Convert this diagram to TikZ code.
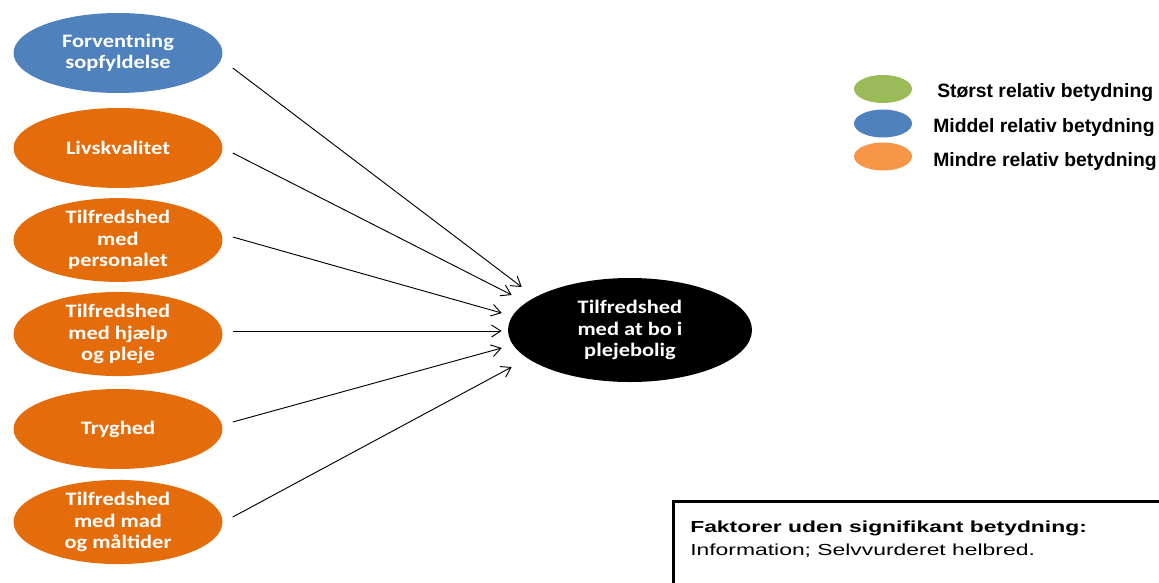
\documentclass[tikz,border=0pt]{standalone}
\usepackage{fontspec}
\setmainfont{Liberation Sans}
\newfontfamily\calfont[FakeStretch=1.18]{Carlito}
\newfontfamily\notefont[FakeStretch=1.43]{Liberation Sans}
\usepackage{xcolor}
\usepackage{tikz}
\usetikzlibrary{arrows.meta,shapes.geometric}
\definecolor{midblue}{HTML}{4F81BD}
\definecolor{darkorange}{HTML}{E46C0A}
\definecolor{lightorange}{HTML}{F79646}
\definecolor{largegreen}{HTML}{9BBB59}
\tikzset{
    factor/.style={ellipse, minimum width=156.75pt, minimum height=60pt, inner sep=0pt,
        text=white, align=center, font=\calfont\bfseries\fontsize{14.25}{16.1}\selectfont},
    legendmark/.style={ellipse, minimum width=43.5pt, minimum height=21pt, inner sep=0pt},
    legendtext/.style={anchor=base west, inner sep=0pt, font=\bfseries\fontsize{14.5}{16}\selectfont}
}

\begin{document}
\begin{tikzpicture}[x=0.75pt, y=-0.75pt, >={Straight Barb[length=7pt,width=9pt]}]
        \useasboundingbox (0,0) rectangle (1159,582);

        % Factors
        \node[factor, fill=midblue] (forv) at (118,53) {Forventning\\sopfyldelse};
        \node[factor, fill=darkorange] (livs) at (118,148) {Livskvalitet};
        \node[factor, fill=darkorange] (pers) at (118,240) {Tilfredshed\\med\\personalet};
        \node[factor, fill=darkorange] (pleje) at (118,334) {Tilfredshed\\med hjælp\\og pleje};
        \node[factor, fill=darkorange] (tryg) at (118,429) {Tryghed};
        \node[factor, fill=darkorange] (mad) at (118,522) {Tilfredshed\\med mad\\og måltider};

        % Outcome
        \node[factor, fill=black, minimum width=183pt, minimum height=78pt] (bolig) at (630,330)
            {Tilfredshed\\med at bo i\\plejebolig};

        % Arrows
        \draw[->, line width=0.7pt] ([shift={(10,15)}]forv.east) -- ([shift={(14,-43)}]bolig.west);
        \draw[->, line width=0.7pt] ([shift={(10,5)}]livs.east) -- ([shift={(4,-35)}]bolig.west);
        \draw[->, line width=0.7pt] ([shift={(10,-3)}]pers.east) -- ([shift={(-6,-17)}]bolig.west);
        \draw[->, line width=0.7pt] ([shift={(10,-3)}]pleje.east) -- ([shift={(-6,1)}]bolig.west);
        \draw[->, line width=0.7pt] ([shift={(10,-7)}]tryg.east) -- ([shift={(-6,18)}]bolig.west);
        \draw[->, line width=0.7pt] ([shift={(10,-5)}]mad.east) -- ([shift={(4,37)}]bolig.west);

        % Legend
        \node[legendmark, fill=largegreen] (green) at (883,89) {};
        \node[legendmark, fill=midblue] (blue) at (883,123.5) {};
        \node[legendmark, fill=lightorange] (orange) at (883,156.5) {};
        \node[legendtext] (greentext) at (937,97) {Størst relativ betydning};
        \node[legendtext] (bluetext) at (933,132) {Middel relativ betydning};
        \node[legendtext] (orangetext) at (933,166) {Mindre relativ betydning};

        % Text box
        \draw[line width=2.25pt] (673.5,600) |- (1170,501.5);
        \node[anchor=base west, inner sep=0pt, align=left,
            font=\notefont\fontsize{12}{17.25}\selectfont] (note) at (690,555)
        {%
            \textbf{Faktorer uden signifikant betydning:}\\
            Information; Selvvurderet helbred.
        };
    \end{tikzpicture}
\end{document}
